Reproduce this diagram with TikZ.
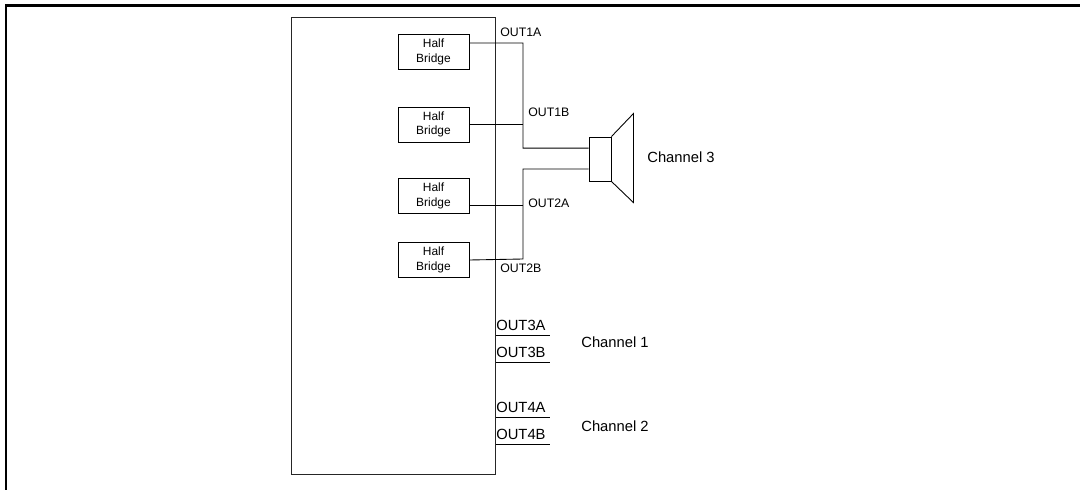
\documentclass[tikz,border=0pt]{standalone}
\usepackage{fontspec}
\setmainfont{Liberation Sans}
\usetikzlibrary{positioning}

\tikzset{
 hbox/.style={draw, line width=0.5pt, minimum width=1.42cm, minimum height=0.7cm, inner sep=0pt, align=center, font=\fontsize{6.8}{8.4}\selectfont},
 wire/.style={line width=0.5pt},
 outlbl/.style={anchor=west, inner sep=0pt, font=\fontsize{7}{8}\selectfont},
 outline/.style={anchor=south west, text width=1.06cm, inner xsep=0pt, inner ysep=2pt, font=\fontsize{8.4}{10}\selectfont},
 chlbl/.style={anchor=west, inner sep=0pt, font=\fontsize{8.4}{10}\selectfont}
}

\begin{document}
\begin{tikzpicture}[x=0.02cm, y=-0.02cm]
\useasboundingbox (0,0) rectangle (1080,490);
% frame
\draw[line width=1.2pt] (6,490) -- (6,5.5) -- (1080,5.5);
% chip
\draw[line width=0.5pt, black!85] (291,17) rectangle (495,474);
\foreach \i/\y in {1/52, 2/124.5, 3/196, 4/260} {
 \node[hbox] (hb\i) at (433.5,\y) {Half\\Bridge};
}
% speaker
\node[draw, line width=0.5pt, minimum width=0.44cm, minimum height=0.88cm, inner sep=0pt] (spk) at (600,159) {};
\draw[line width=0.5pt] (spk.north east) --++(22,-23) --++(0,89) -- (spk.south east);
\coordinate (j1) at (523,43);
\coordinate (j2) at (523,259);
\draw[wire] ([yshift=5.1pt]hb1.east) -- (j1) |- ([yshift=6.2pt]spk.west);
\draw[wire] (hb2.east) -- (hb2.east -| j1);
\draw[wire] (hb4.east) -- (j2) |- ([yshift=-5.7pt]spk.west);
\draw[wire] ([yshift=-5.1pt]hb3.east) -- ([yshift=-5.1pt]hb3.east -| j2);
\node[outlbl] (o1a) at (500,32) {OUT1A};
\node[outlbl] (o1b) at (528,112) {OUT1B};
\node[outlbl] (o2a) at (528,203) {OUT2A};
\node[outlbl] (o2b) at (500,268) {OUT2B};
\node[chlbl] (ch3) at (647,157) {Channel 3};
% remaining outputs
\foreach \n/\y in {3A/335, 3B/362, 4A/417, 4B/444} {
 \node[outline] (o\n) at (496,\y) {OUT\n};
 \draw[wire] (o\n.south west) -- (o\n.south east);
}
\node[chlbl] (ch1) at (581,342) {Channel 1};
\node[chlbl] (ch2) at (581,426) {Channel 2};
\end{tikzpicture}
\end{document}
